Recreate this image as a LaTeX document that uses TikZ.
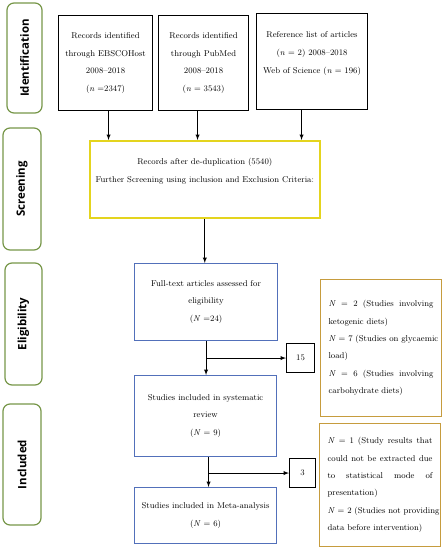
\documentclass[tikz,border=0pt]{standalone}
\usepackage{fontspec}
\newfontfamily\sidefont{Open Sans}
\usetikzlibrary{calc}

\definecolor{sidegreen}{RGB}{118,150,72}
\definecolor{scrline}{RGB}{228,212,30}
\definecolor{incline}{RGB}{82,112,186}
\definecolor{excline}{RGB}{198,156,62}

\newcommand{\jline}[1]{\makebox[105bp][s]{\spaceskip=.3333em plus 1fil\relax #1}}

\tikzset{
	box/.style={draw, line width=1.1bp, anchor=north west, inner sep=0pt, align=center,
		font=\fontsize{8.5}{18}\selectfont},
	stage/.style={draw=sidegreen, line width=1.2bp, rounded corners=7bp, rotate=90,
		inner sep=0pt, font=\sidefont\bfseries\fontsize{11.5}{13}\selectfont},
	excl/.style={draw=excline, line width=1.1bp, anchor=north west, inner xsep=8bp,
		text width=105bp, align=left, font=\fontsize{8.5}{17.5}\selectfont},
	arr/.style={-latex, line width=0.9bp}
}

\begin{document}
\begin{tikzpicture}[x=1bp, y=-1bp]
	\useasboundingbox (0,0) rectangle (444,550);

	% stages on the left
	\node[stage, minimum width=110bp, minimum height=35bp] (sid) at (24.5,58) {Identification};
	\node[stage, minimum width=122bp, minimum height=38bp] (sscr) at (22,189) {Screening};
	\node[stage, minimum width=122bp, minimum height=37bp] (selg) at (23.5,324) {Eligibility};
	\node[stage, minimum width=121bp, minimum height=38bp] (sinc) at (22,464.5) {Included};

	% sources
	\node[box, minimum width=94bp, minimum height=95bp] (ebsco) at (58,15)
		{Records identified\\through EBSCOHost\\2008--2018\\(\textit{n} =2347)};
	\node[box, minimum width=90bp, minimum height=95bp] (pubmed) at (158,15)
		{Records identified\\through PubMed\\2008--2018\\(\textit{n} = 3543)};
	\node[box, minimum width=111bp, minimum height=96bp] (wos) at (256,13)
		{Reference list of articles\\(\textit{n} = 2) 2008--2018\\Web of Science (\textit{n} = 196)\\\mbox{}};

	\node[box, draw=scrline, line width=1.6bp, minimum width=230bp, minimum height=77bp] (dedup) at (89,140)
		{Records after de-duplication (5540)\\Further Screening using inclusion and Exclusion Criteria:\\\mbox{}};

	\node[box, draw=incline, minimum width=143bp, minimum height=77bp] (fulltext) at (134,263)
		{Full-text articles assessed for\\eligibility\\(\textit{N} =24)};
	\node[box, draw=incline, minimum width=142bp, minimum height=81bp] (review) at (134,375)
		{Studies included in systematic\\review\\(\textit{N} = 9)};
	\node[box, draw=incline, minimum width=142bp, minimum height=56bp] (meta) at (134,487)
		{Studies included in Meta-analysis\\(\textit{N} = 6)};

	% excluded counts
	\node[box, minimum width=28bp, minimum height=29bp] (out15) at (286,343) {15};
	\node[box, minimum width=26bp, minimum height=29bp] (out3) at (289,458) {3};

	\node[excl, minimum height=137bp] (why15) at (320,279)
		{\jline{\textit{N} = 2 (Studies involving}\\ketogenic diets)\\
		\jline{\textit{N} = 7 (Studies on glycaemic}\\load)\\
		\jline{\textit{N} = 6 (Studies involving}\\carbohydrate diets)};
	\node[excl, minimum height=123bp] (why3) at (319,423)
		{\jline{\textit{N} = 1 (Study results that}\\\jline{could not be extracted due}\\
		\jline{to statistical mode of}\\presentation)\\
		\jline{\textit{N} = 2 (Studies not providing}\\data before intervention)};

	% arrows
	\draw[arr] ([xshift=3bp]ebsco.south) -- ([xshift=3bp]ebsco.south |- dedup.north);
	\draw[arr] ([xshift=-6bp]pubmed.south) -- ([xshift=-6bp]pubmed.south |- dedup.north);
	\draw[arr] ([xshift=-10.5bp]wos.south) -- ([xshift=-10.5bp]wos.south |- dedup.north);
	\draw[arr] (dedup.south) -- (dedup.south |- fulltext.north);

	\draw[arr] (fulltext.south) -- (fulltext.south |- review.north);
	\coordinate (fork1) at (fulltext.south |- out15.west);
	\draw[arr] (fork1) -- (out15.west);

	\draw[arr] ([xshift=3bp]review.south) -- ([xshift=3bp]review.south |- meta.north);
	\coordinate (fork2) at ([xshift=3bp]review.south |- out3.west);
	\draw[arr] (fork2) -- (out3.west);
\end{tikzpicture}
\end{document}
